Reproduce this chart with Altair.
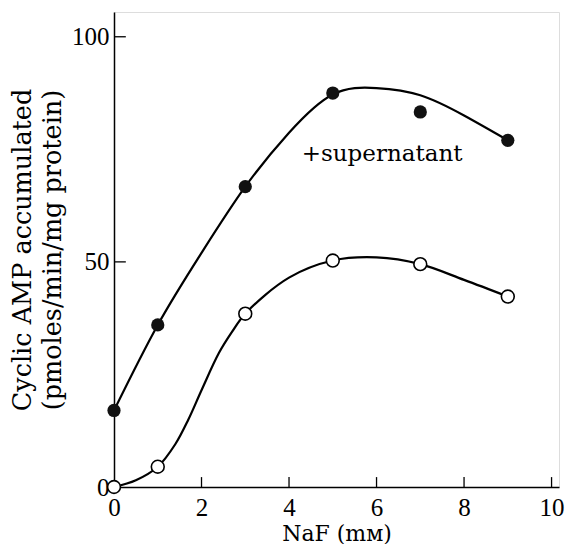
import altair as alt
import pandas as pd

# measured points
naf = [0, 1, 3, 5, 7, 9]
with_sup = [17, 36, 66.7, 87.5, 83.3, 77]
without_sup = [0, 4.5, 38.5, 50.3, 49.5, 42.3]

# hand-drawn smooth curves
curve_sup_x = [0, 1, 2, 3, 4, 5, 6, 7, 8, 9]
curve_sup_y = [17, 36, 52, 66.7, 78.7, 87.2, 88.6, 87, 82.5, 77]
curve_none_x = [0, 0.5, 1, 1.4, 1.7, 2, 2.4, 2.7, 3, 4, 5, 6, 7, 8, 9]
curve_none_y = [0, 1.5, 4.5, 9.5, 15, 21.5, 29.8, 34.5, 38.5, 46.5, 50.3, 51, 49.5, 46, 42.3]

x_ticks = [0, 2, 4, 6, 8, 10]
y_ticks = [0, 50, 100]
x_inner_ticks = [2, 4, 6, 8, 10]
y_inner_ticks = [50, 100]

label_text = "+supernatant"
label_pos = (4.29, 72.5)

XDOM = [0, 10.17]
YDOM = [0, 105.5]

curve_sup = pd.DataFrame({"x": curve_sup_x, "y": curve_sup_y})
curve_none = pd.DataFrame({"x": curve_none_x, "y": curve_none_y})
pts_sup = pd.DataFrame({"x": naf, "y": with_sup})
pts_none = pd.DataFrame({"x": naf, "y": without_sup})

xs = alt.Scale(domain=XDOM, nice=False, zero=False)
ys = alt.Scale(domain=YDOM, nice=False, zero=False)

xaxis = alt.Axis(
    values=x_ticks, title="NaF  (mᴍ)", grid=False, tickSize=0,
    labelFont="Liberation Serif", labelFontSize=25, labelColor="black",
    labelPadding=8, labelFlush=False, labelOverlap=False,
    titleFont="DejaVu Serif", titleFontSize=22, titleFontWeight="normal",
    titleColor="black", titlePadding=3,
    domainColor="black", domainWidth=1.5,
)
yaxis = alt.Axis(
    values=y_ticks, title=["Cyclic AMP accumulated", "(pmoles/min/mg protein)"],
    grid=False, tickSize=0,
    labelFont="Liberation Serif", labelFontSize=25, labelColor="black",
    labelPadding=5, labelOverlap=False, labelFlush=False,
    titleFont="DejaVu Serif", titleFontSize=25.5, titleFontWeight="normal",
    titleColor="black", titlePadding=6, titleLineHeight=30,
    domainColor="black", domainWidth=1.5,
)

base_x = alt.X("x:Q", scale=xs, axis=xaxis)
base_y = alt.Y("y:Q", scale=ys, axis=yaxis)

line_sup = alt.Chart(curve_sup).mark_line(
    interpolate="natural", color="black", strokeWidth=2.2
).encode(x=base_x, y=base_y)

line_none = alt.Chart(curve_none).mark_line(
    interpolate="catmull-rom", color="black", strokeWidth=2.2
).encode(x="x:Q", y="y:Q")

p_sup = alt.Chart(pts_sup).mark_point(
    shape="circle", filled=True, size=175, color="#111111", opacity=1
).encode(x="x:Q", y="y:Q")

p_none = alt.Chart(pts_none).mark_point(
    shape="circle", filled=False, size=165, fill="white", stroke="black",
    strokeWidth=1.6, opacity=1, fillOpacity=1
).encode(x="x:Q", y="y:Q")

txt = alt.Chart(pd.DataFrame({"x": [label_pos[0]], "y": [label_pos[1]], "t": [label_text]})).mark_text(
    align="left", baseline="alphabetic", font="DejaVu Serif", fontSize=23, color="black"
).encode(x="x:Q", y="y:Q", text="t:N")

xt = alt.Chart(pd.DataFrame({"x": x_inner_ticks})).mark_rule(color="black", strokeWidth=1.3).encode(
    x="x:Q", y=alt.datum(0), y2=alt.datum(2.2)
)
yt = alt.Chart(pd.DataFrame({"y": y_inner_ticks})).mark_rule(color="black", strokeWidth=1.3).encode(
    y="y:Q", x=alt.datum(0), x2=alt.datum(0.27)
)

chart = alt.layer(line_sup, xt, yt, line_none, p_sup, p_none, txt).properties(
    width=445, height=475,
    padding={"top": 4, "left": 2, "right": 0, "bottom": 0},
).configure_view(stroke=None).configure(background="white")

chart.save("out.html", embed_options={"renderer": "svg", "actions": False})
